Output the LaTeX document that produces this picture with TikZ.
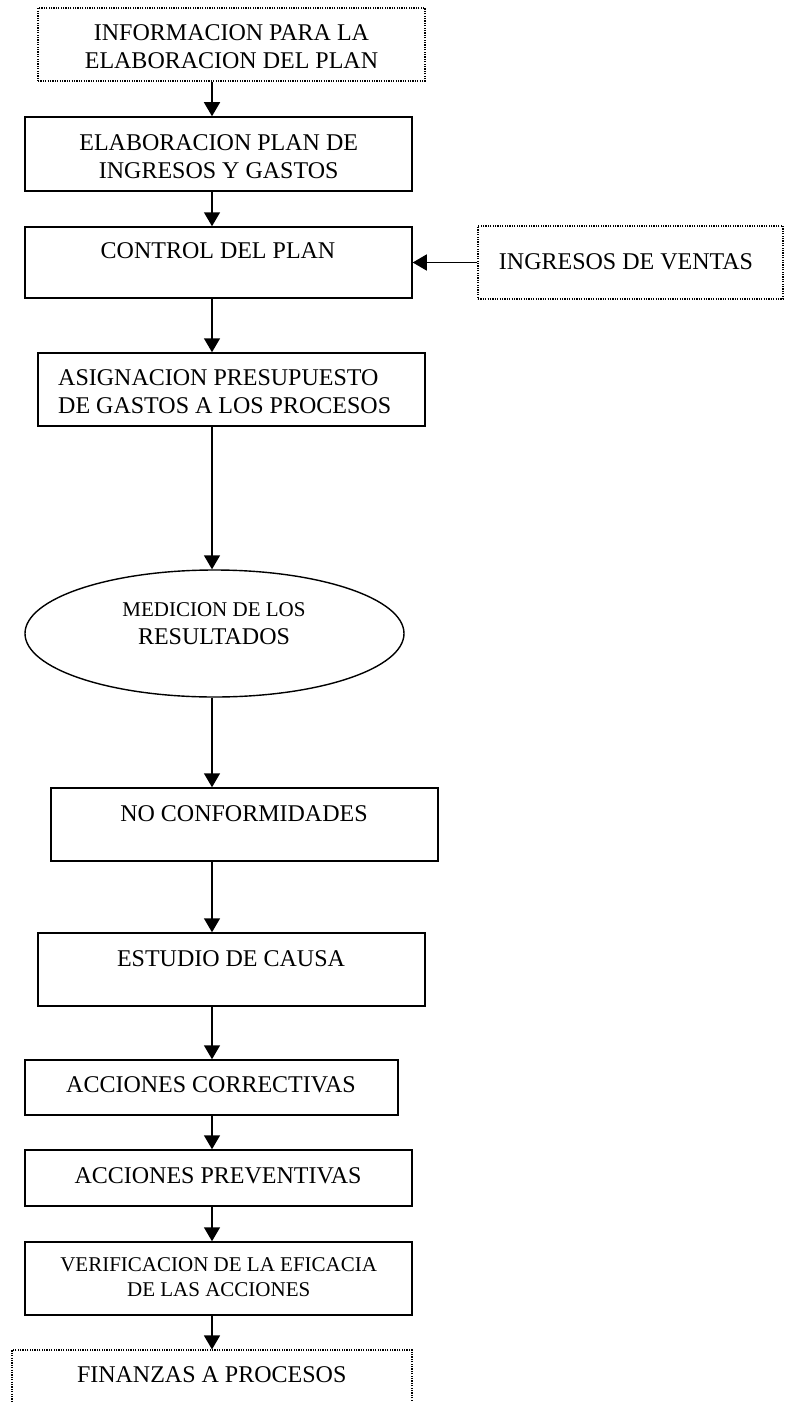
\documentclass[tikz,border=0pt]{standalone}
\usepackage{fontspec}
\setmainfont{Liberation Serif}
\usetikzlibrary{arrows.meta,shapes.geometric}
\begin{document}
\begin{tikzpicture}[x=1pt,y=-1pt,
  box/.style={draw, rectangle, line width=1.5pt, inner sep=0pt},
  dotbox/.style={draw, rectangle, line width=1.2pt, dash pattern=on 1.2pt off 1.2pt, inner sep=0pt},
  oval/.style={draw, ellipse, line width=1.4pt, inner sep=0pt},
  txt/.style={inner sep=0pt, align=center, font=\fontsize{24}{28}\selectfont},
  small/.style={inner sep=0pt, align=center, font=\fontsize{21}{25}\selectfont},
  arr/.style={line width=1.5pt, -{Triangle[length=14pt,width=16pt]}}]
\useasboundingbox (0,0) rectangle (786,1402);
\clip (0,0) rectangle (786,1402);
\fill[white] (0,0) rectangle (786,1402);
\coordinate (axis) at (212,0);

% boxes
\node[dotbox, minimum width=387pt, minimum height=73pt] (info) at (231.5,44.5) {};
\node[box, minimum width=387pt, minimum height=74pt] (elab) at (218.5,154) {};
\node[box, minimum width=387pt, minimum height=71pt] (ctrl) at (218.5,262.5) {};
\node[dotbox, minimum width=305pt, minimum height=73pt] (ingr) at (630.5,262.5) {};
\node[box, minimum width=387pt, minimum height=73pt] (asig) at (231.5,389.5) {};
\node[oval, minimum width=379pt, minimum height=127pt] (med) at (214.5,633.5) {};
\node[box, minimum width=387pt, minimum height=73pt] (noconf) at (244.5,824.5) {};
\node[box, minimum width=387pt, minimum height=73pt] (causa) at (231.5,969.5) {};
\node[box, minimum width=373pt, minimum height=55pt] (corr) at (211.5,1087.5) {};
\node[box, minimum width=387pt, minimum height=56pt] (prev) at (218.5,1178) {};
\node[box, minimum width=387pt, minimum height=73pt] (verif) at (218.5,1278.5) {};
\node[dotbox, minimum width=400pt, minimum height=90pt] (fin) at (212,1395) {};

% texts
\node[txt] (t-info) at (231.5,47) {INFORMACION PARA LA\\ELABORACION DEL PLAN};
\node[txt] (t-elab) at (218.7,156.5) {ELABORACION PLAN DE\\INGRESOS Y GASTOS};
\node[txt] (t-ctrl) at (218,251) {CONTROL DEL PLAN};
\node[txt] (t-ingr) at (626,262) {INGRESOS DE VENTAS};
\node[txt, align=left, anchor=west] (t-asig) at (58,391.5) {ASIGNACION PRESUPUESTO\\DE GASTOS A LOS PROCESOS};
\node[small] (t-med1) at (214,610) {MEDICION DE LOS};
\node[txt] (t-med2) at (214,637) {RESULTADOS};
\node[txt] (t-noconf) at (244,814) {NO CONFORMIDADES};
\node[txt] (t-causa) at (231,959) {ESTUDIO DE CAUSA};
\node[txt] (t-corr) at (211,1085) {ACCIONES CORRECTIVAS};
\node[txt] (t-prev) at (218,1176) {ACCIONES PREVENTIVAS};
\node[small] (t-verif) at (218.7,1277.5) {VERIFICACION DE LA EFICACIA\\DE LAS ACCIONES};
\node[txt] (t-fin) at (211.7,1375) {FINANZAS A PROCESOS};

% connectors
\draw[arr] (info.south -| axis) -- (elab.north -| axis);
\draw[arr] (elab.south -| axis) -- (ctrl.north -| axis);
\draw[arr] (ingr.west) -- (ctrl.east);
\draw[arr] (ctrl.south -| axis) -- (asig.north -| axis);
\draw[arr] (asig.south -| axis) -- (med.north -| axis);
\draw[arr] (med.south -| axis) -- (noconf.north -| axis);
\draw[arr] (noconf.south -| axis) -- (causa.north -| axis);
\draw[arr] (causa.south -| axis) -- (corr.north -| axis);
\draw[arr] (corr.south -| axis) -- (prev.north -| axis);
\draw[arr] (prev.south -| axis) -- (verif.north -| axis);
\draw[arr] (verif.south -| axis) -- (fin.north -| axis);
\end{tikzpicture}
\end{document}
